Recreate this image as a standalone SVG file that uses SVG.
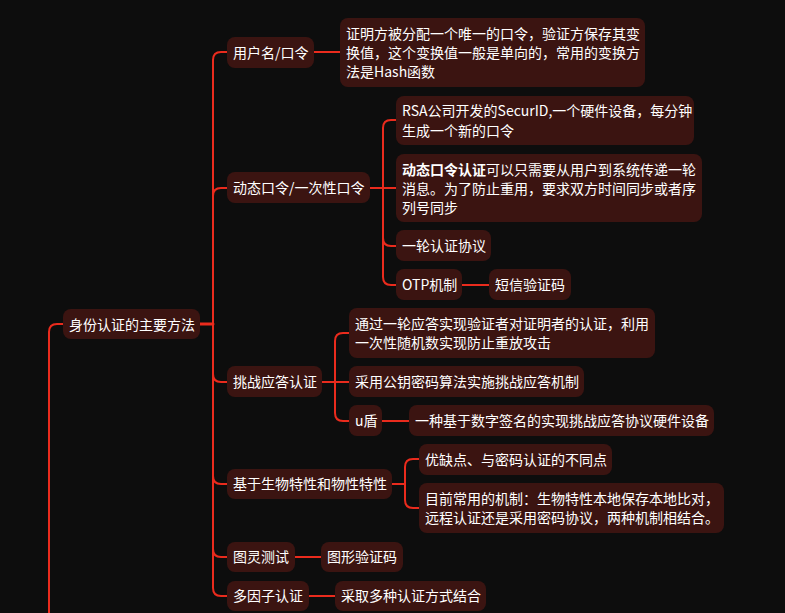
<svg xmlns="http://www.w3.org/2000/svg" width="785" height="613" viewBox="0 0 785 613">
<style>
.bg{fill:#0d0d0d}
.n rect{fill:#3b1411}
.n text{fill:#ffffff;font-family:"Noto Sans CJK SC","Noto Sans",sans-serif;font-size:14px}
.b{font-weight:bold}
.c path{fill:none;stroke:#ea2b1d;stroke-width:2;stroke-linecap:round}
.c .thick{stroke-width:3}
</style>
<rect class="bg" x="0" y="0" width="785" height="613"/>
<g class="c" id="connectors">
<path d="M63,324 H57 Q49,324 49,332 V614"/>
<path class="thick" d="M200,324 H213"/>
<path d="M213,324 V60 Q213,52 221,52 H227"/>
<path d="M213,324 V196 Q213,188 221,188 H227"/>
<path d="M213,324 V374 Q213,382 221,382 H227"/>
<path d="M213,324 V476 Q213,484 221,484 H227"/>
<path d="M213,324 V549 Q213,557 221,557 H227"/>
<path d="M213,324 V588 Q213,596 221,596 H227"/>
<path d="M314,52 H340"/>
<path d="M370,188 H396"/>
<path d="M383,188 V128 Q383,120 391,120 H396"/>
<path d="M383,188 V238 Q383,246 391,246 H396"/>
<path d="M383,188 V277 Q383,285 391,285 H396"/>
<path d="M462,285 H489"/>
<path d="M322,382 H349"/>
<path d="M335,382 V341 Q335,333 343,333 H349"/>
<path d="M335,382 V413 Q335,421 343,421 H349"/>
<path d="M382,421 H409"/>
<path d="M392,484 H405"/>
<path d="M405,484 V467 Q405,459 413,459 H419"/>
<path d="M405,484 V500 Q405,508 413,508 H419"/>
<path d="M295,557 H321"/>
<path d="M309,596 H335"/>
</g>
<g class="n" id="root"><rect x="63" y="309" width="137" height="30" rx="8"/><text x="69" y="330">身份认证的主要方法</text></g>
<g class="n" id="n1"><rect x="227" y="37" width="87" height="31" rx="8"/><text x="233" y="58">用户名/口令</text></g>
<g class="n" id="n1a"><rect x="340" y="18" width="305" height="69" rx="8"/><text x="346" y="39">证明方被分配一个唯一的口令，验证方保存其变</text><text x="346" y="58">换值，这个变换值一般是单向的，常用的变换方</text><text x="346" y="77">法是Hash函数</text></g>
<g class="n" id="n2"><rect x="227" y="172" width="143" height="31" rx="8"/><text x="233" y="193">动态口令/一次性口令</text></g>
<g class="n" id="n2a"><rect x="396" y="96" width="298" height="49" rx="8"/><text x="402" y="116">RSA公司开发的SecurID,一个硬件设备，每分钟</text><text x="402" y="136">生成一个新的口令</text></g>
<g class="n" id="n2b"><rect x="396" y="154" width="306" height="68" rx="8"/><text x="402" y="175"><tspan class="b">动态口令认证</tspan>可以只需要从用户到系统传递一轮</text><text x="402" y="194">消息。为了防止重用，要求双方时间同步或者序</text><text x="402" y="213">列号同步</text></g>
<g class="n" id="n2c"><rect x="396" y="230" width="95" height="31" rx="8"/><text x="402" y="251">一轮认证协议</text></g>
<g class="n" id="n2d"><rect x="396" y="269" width="66" height="31" rx="8"/><text x="402" y="290">OTP机制</text></g>
<g class="n" id="n2d1"><rect x="489" y="269" width="82" height="31" rx="8"/><text x="495" y="290">短信验证码</text></g>
<g class="n" id="n3"><rect x="227" y="366" width="95" height="31" rx="8"/><text x="233" y="387">挑战应答认证</text></g>
<g class="n" id="n3a"><rect x="349" y="308" width="306" height="50" rx="8"/><text x="355" y="329">通过一轮应答实现验证者对证明者的认证，利用</text><text x="355" y="348">一次性随机数实现防止重放攻击</text></g>
<g class="n" id="n3b"><rect x="349" y="366" width="235" height="31" rx="8"/><text x="355" y="387">采用公钥密码算法实施挑战应答机制</text></g>
<g class="n" id="n3c"><rect x="349" y="405" width="33" height="31" rx="8"/><text x="355" y="426">u盾</text></g>
<g class="n" id="n3c1"><rect x="409" y="405" width="305" height="31" rx="8"/><text x="415" y="426">一种基于数字签名的实现挑战应答协议硬件设备</text></g>
<g class="n" id="n4"><rect x="227" y="469" width="165" height="30" rx="8"/><text x="233" y="489">基于生物特性和物性特性</text></g>
<g class="n" id="n4a"><rect x="419" y="444" width="193" height="31" rx="8"/><text x="425" y="465">优缺点、与密码认证的不同点</text></g>
<g class="n" id="n4b"><rect x="419" y="483" width="305" height="50" rx="8"/><text x="425" y="504">目前常用的机制：生物特性本地保存本地比对，</text><text x="425" y="523">远程认证还是采用密码协议，两种机制相结合。</text></g>
<g class="n" id="n5"><rect x="227" y="542" width="68" height="30" rx="8"/><text x="233" y="562">图灵测试</text></g>
<g class="n" id="n5a"><rect x="321" y="542" width="82" height="30" rx="8"/><text x="327" y="562">图形验证码</text></g>
<g class="n" id="n6"><rect x="227" y="581" width="82" height="30" rx="8"/><text x="233" y="601">多因子认证</text></g>
<g class="n" id="n6a"><rect x="335" y="581" width="151" height="30" rx="8"/><text x="341" y="601">采取多种认证方式结合</text></g>
</svg>
